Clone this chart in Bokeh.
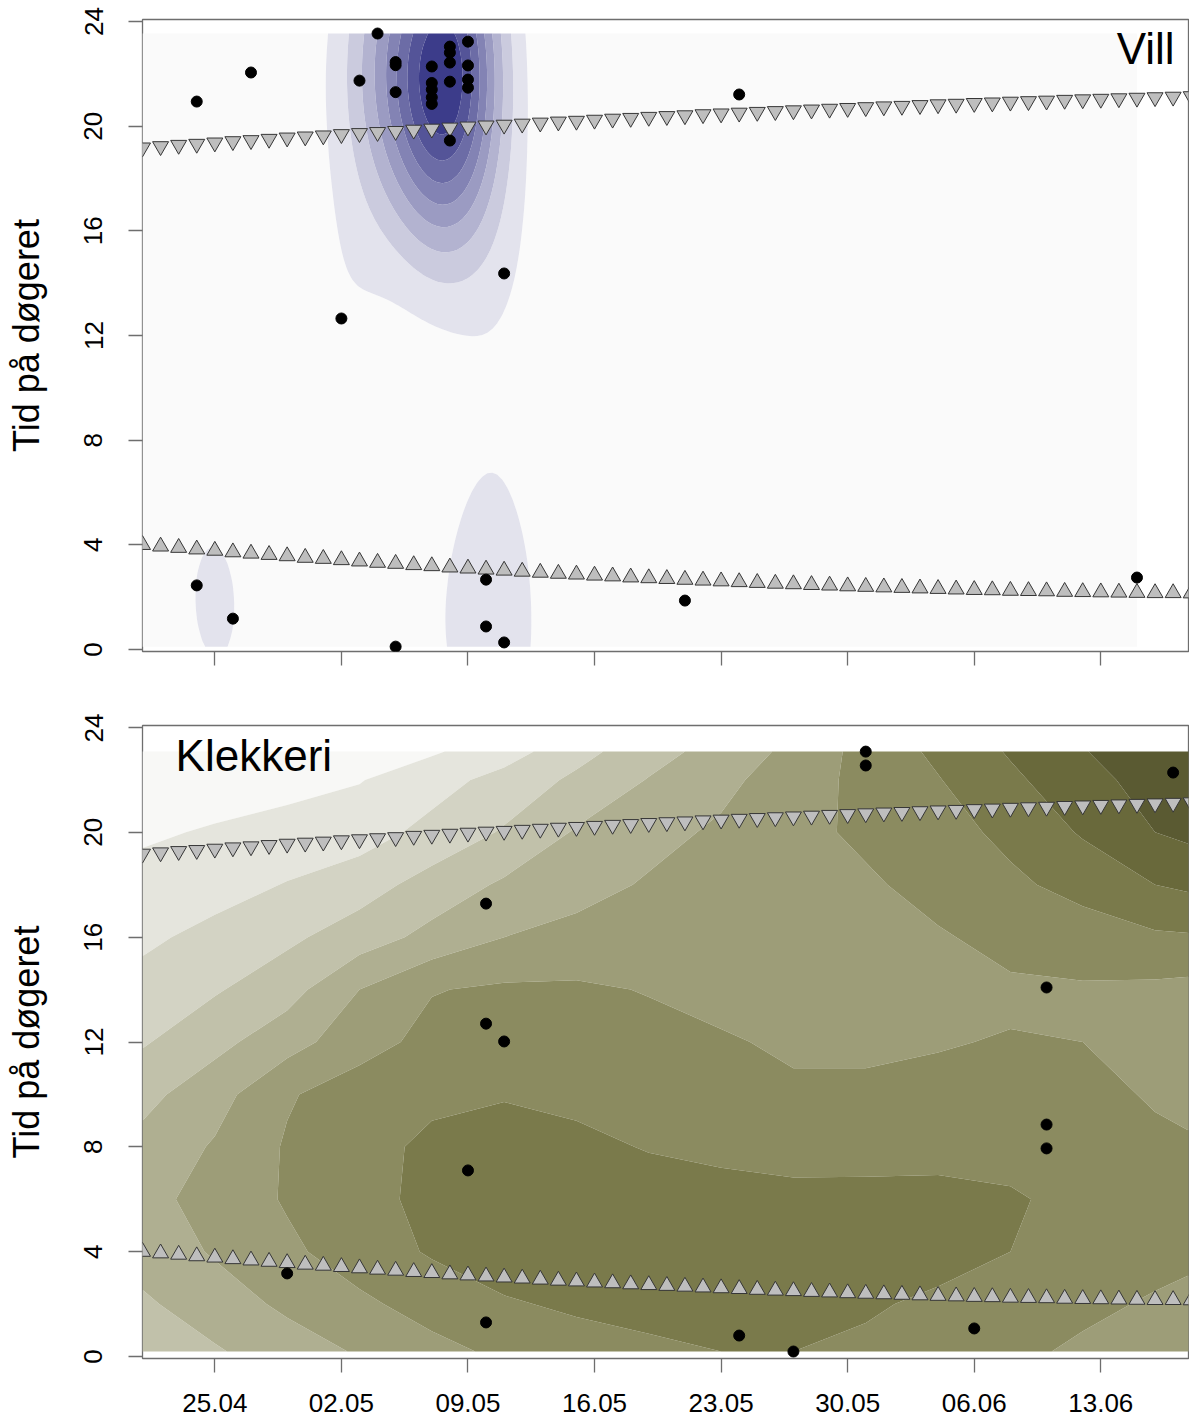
import numpy as np
from bokeh.plotting import figure
from bokeh.layouts import column
from bokeh.models import FixedTicker, Label
from bokeh.embed import file_html
from bokeh.resources import INLINE

FONT = "Liberation Sans"
GREY = "#6e6e6e"

# ---------------- data ----------------
# x axis: days counted from 21.04
x_limits = [0, 57.85]
tick_days = [4, 11, 18, 25, 32, 39, 46, 53]
tick_labels = ["25.04", "02.05", "09.05", "16.05", "23.05", "30.05", "06.06", "13.06"]
hour_ticks = [0, 4, 8, 12, 16, 20, 24]

sun_day = list(range(59))
sunset = [19.18, 19.23, 19.28, 19.32, 19.37, 19.42, 19.46, 19.51, 19.56, 19.60,
          19.64, 19.69, 19.73, 19.77, 19.81, 19.86, 19.90, 19.94, 19.98, 20.02,
          20.05, 20.09, 20.13, 20.17, 20.20, 20.24, 20.28, 20.31, 20.35, 20.38,
          20.41, 20.45, 20.48, 20.51, 20.54, 20.57, 20.60, 20.63, 20.66, 20.69,
          20.72, 20.75, 20.77, 20.80, 20.83, 20.85, 20.88, 20.90, 20.93, 20.95,
          20.97, 21.00, 21.02, 21.04, 21.06, 21.08, 21.10, 21.12, 21.14]
sunrise = [4.00, 3.94, 3.89, 3.83, 3.78, 3.72, 3.67, 3.62, 3.57, 3.51,
           3.47, 3.42, 3.37, 3.32, 3.28, 3.23, 3.19, 3.14, 3.10, 3.06,
           3.02, 2.98, 2.94, 2.90, 2.87, 2.83, 2.80, 2.76, 2.73, 2.70,
           2.67, 2.64, 2.61, 2.58, 2.55, 2.52, 2.50, 2.47, 2.45, 2.42,
           2.40, 2.38, 2.36, 2.34, 2.32, 2.30, 2.28, 2.27, 2.25, 2.24,
           2.23, 2.21, 2.20, 2.19, 2.18, 2.17, 2.16, 2.16, 2.15]

vill_day = [3, 6, 12, 13, 14, 14, 14, 11, 16, 16, 16, 16, 16, 17, 17, 17, 17, 17,
            18, 18, 18, 18, 20, 33, 3, 5, 14, 19, 19, 20, 30, 55]
vill_hour = [20.94, 22.05, 21.74, 23.54, 22.45, 22.33, 21.30, 12.65, 22.28, 21.65,
             21.40, 21.10, 20.85, 23.04, 22.81, 22.43, 21.70, 19.45, 23.23, 22.32,
             21.78, 21.47, 14.37, 21.21, 2.45, 1.18, 0.11, 2.67, 0.88, 0.27, 1.87, 2.75]
vill_kde_xlim = [0, 55]
vill_bandwidth = [1.9, 4.3]          # kernel sd in days, hours
vill_colors = ["#fafafa", "#e3e3ed", "#cbcbde", "#b3b3d0", "#9b9bc2",
               "#8383b4", "#6c6ca6", "#545498", "#3c3c8a"]

klekk_day = [8, 19, 19, 20, 18, 19, 33, 36, 40, 40, 46, 50, 50, 50, 57]
klekk_hour = [3.17, 17.28, 12.70, 12.02, 7.10, 1.30, 0.80, 0.19, 23.08, 22.55,
              1.07, 14.08, 8.85, 7.94, 22.28]
klekk_grid_day = [0, 4, 8, 12, 16, 20, 24, 28, 32, 36, 40, 44, 48, 52, 56, 58]
klekk_grid_hour = [0.19, 2, 4, 6, 8, 10, 12, 14, 16, 18, 20, 22, 23.08]
klekk_level = [
    [3.3, 3.9, 4.5, 5.1, 5.7, 6.2, 6.6, 6.85, 7.0, 7.0, 6.85, 6.55, 6.2, 5.85, 5.55, 5.45],
    [3.85, 4.5, 5.2, 5.8, 6.4, 6.9, 7.15, 7.25, 7.3, 7.25, 7.1, 6.85, 6.5, 6.2, 5.9, 5.8],
    [4.4, 5.1, 5.8, 6.5, 7.1, 7.5, 7.65, 7.6, 7.5, 7.45, 7.45, 7.3, 7.0, 6.6, 6.3, 6.15],
    [4.7, 5.35, 6.1, 6.75, 7.2, 7.45, 7.5, 7.4, 7.3, 7.25, 7.3, 7.3, 7.1, 6.75, 6.45, 6.3],
    [4.3, 5.1, 6.1, 6.75, 7.15, 7.3, 7.2, 6.95, 6.8, 6.65, 6.6, 6.65, 6.7, 6.55, 6.2, 6.1],
    [3.7, 4.6, 5.9, 6.5, 6.85, 6.95, 6.8, 6.6, 6.35, 6.15, 6.15, 6.2, 6.35, 6.3, 5.9, 5.75],
    [2.9, 3.7, 4.6, 5.6, 6.3, 6.6, 6.5, 6.3, 6.1, 5.85, 5.85, 5.95, 6.05, 6.0, 5.7, 5.5],
    [2.35, 2.9, 3.6, 5.0, 5.95, 6.15, 6.15, 5.95, 5.7, 5.6, 5.6, 5.75, 5.85, 5.9, 5.8, 5.7],
    [1.8, 2.3, 2.8, 3.5, 4.3, 5.0, 5.3, 5.4, 5.4, 5.45, 5.6, 5.9, 6.3, 6.5, 6.85, 6.9],
    [1.35, 1.6, 2.05, 2.55, 3.4, 4.15, 4.65, 5.1, 5.35, 5.55, 5.85, 6.35, 6.8, 7.35, 8.0, 8.2],
    [0.85, 1.1, 1.35, 1.55, 2.3, 3.1, 4.1, 4.7, 5.15, 5.7, 6.2, 6.6, 7.25, 8.1, 9.0, 9.25],
    [0.3, 0.5, 0.68, 0.95, 1.6, 2.35, 3.2, 4.05, 4.75, 5.5, 6.3, 6.95, 7.8, 8.65, 9.4, 9.7],
    [0.0, 0.2, 0.45, 0.65, 0.88, 1.55, 2.65, 3.6, 4.4, 5.25, 6.35, 7.2, 8.1, 8.95, 9.6, 9.9],
]
klekk_levels = [-0.5, 1, 2, 3, 4, 5, 6, 7, 8, 9, 10.5]
klekk_colors = ["#f8f8f6", "#e5e5dd", "#d3d3c4", "#c1c1aa", "#afaf91",
                "#9d9d78", "#8b8b60", "#7a7a4b", "#69693b", "#5a5a32"]


# ---------------- helpers ----------------
def base_fig(frame_h, top, bottom, show_xlabels):
    p = figure(frame_width=1046, frame_height=frame_h,
               x_range=(x_limits[0], x_limits[1]), y_range=(-0.076, 24.076),
               output_backend="svg", toolbar_location=None,
               min_border_left=142, min_border_right=1,
               min_border_top=top, min_border_bottom=bottom,
               background_fill_color="white", border_fill_color="white",
               outline_line_color=GREY, outline_line_width=1.3)
    p.grid.visible = False
    ya = p.yaxis[0]
    ya.ticker = FixedTicker(ticks=hour_ticks)
    ya.major_label_orientation = "vertical"
    ya.major_label_text_font = FONT
    ya.major_label_text_font_size = "26px"
    ya.major_label_text_color = "black"
    ya.major_label_standoff = 26
    ya.major_tick_out = 14
    ya.major_tick_in = 0
    ya.minor_tick_out = 0
    ya.minor_tick_in = 0
    ya.major_tick_line_color = GREY
    ya.major_tick_line_width = 1.3
    ya.axis_line_color = None
    ya.axis_label = "Tid på døgeret"
    ya.axis_label_text_font = FONT
    ya.axis_label_text_font_size = "36px"
    ya.axis_label_text_font_style = "normal"
    ya.axis_label_text_color = "black"
    ya.axis_label_standoff = 35
    xa = p.xaxis[0]
    xa.ticker = FixedTicker(ticks=tick_days)
    xa.major_label_overrides = {d: s for d, s in zip(tick_days, tick_labels)}
    xa.major_label_text_font = FONT
    xa.major_label_text_font_size = "26px"
    xa.major_label_text_color = "black" if show_xlabels else None
    xa.major_label_standoff = 21 if show_xlabels else 8
    xa.major_tick_out = 14
    xa.major_tick_in = 0
    xa.minor_tick_out = 0
    xa.minor_tick_in = 0
    xa.major_tick_line_color = GREY
    xa.major_tick_line_width = 1.3
    xa.axis_line_color = None
    return p


def add_sun_and_points(p, day, hour):
    p.scatter(sun_day, sunset, marker="inverted_triangle", size=16,
              fill_color="#bebebe", line_color="#363636", line_width=1)
    p.scatter(sun_day, sunrise, marker="triangle", size=16,
              fill_color="#bebebe", line_color="#363636", line_width=1)
    p.scatter(day, hour, marker="circle", size=11,
              fill_color="black", line_color="black")


# ---------------- top panel: Vill (2-D kernel density of the fish) ----------------
p1 = base_fig(632, 19, 62, False)

n = 200
gx = np.linspace(vill_kde_xlim[0], vill_kde_xlim[1], n)
gy = np.linspace(min(vill_hour), max(vill_hour), n)
hx, hy = vill_bandwidth
kx = np.exp(-0.5 * ((gx[:, None] - np.asarray(vill_day, float)[None, :]) / hx) ** 2)
ky = np.exp(-0.5 * ((gy[:, None] - np.asarray(vill_hour, float)[None, :]) / hy) ** 2)
z = ky @ kx.T
lv = np.linspace(z.min(), z.max(), len(vill_colors) + 1)
span = z.max() - z.min()
lv[0] -= 0.01 * span
lv[-1] += 0.01 * span
p1.contour(x=gx, y=gy, z=z, levels=list(lv), fill_color=vill_colors, line_color=None)

add_sun_and_points(p1, vill_day, vill_hour)
p1.add_layout(Label(x=57.08, y=22.96, text="Vill", text_align="right",
                    text_baseline="alphabetic", text_font=FONT,
                    text_font_size="44px", text_color="black"))

# ---------------- bottom panel: Klekkeri ----------------
p2 = base_fig(633, 12, 64, True)
p2.contour(x=klekk_grid_day, y=klekk_grid_hour, z=np.asarray(klekk_level),
           levels=klekk_levels, fill_color=klekk_colors, line_color=None)
add_sun_and_points(p2, klekk_day, klekk_hour)
p2.add_layout(Label(x=1.83, y=22.93, text="Klekkeri", text_align="left",
                    text_baseline="alphabetic", text_font=FONT,
                    text_font_size="44px", text_color="black"))

layout = column(p1, p2)
open("out.html", "w").write(file_html(layout, INLINE))
